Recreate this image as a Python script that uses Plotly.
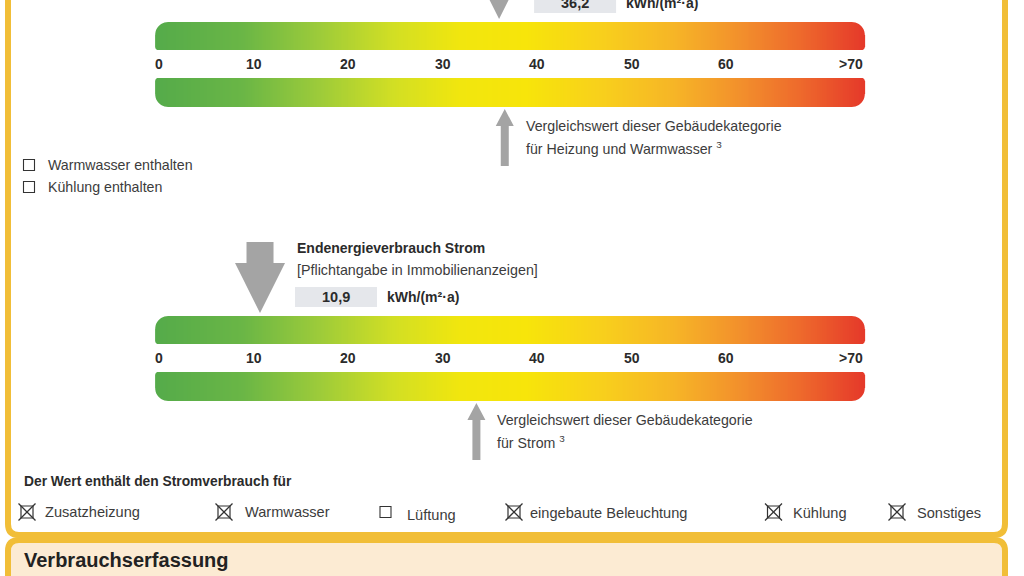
import numpy as np
import plotly.graph_objects as go

# ---------------- data ----------------
tick_values = [0, 10, 20, 30, 40, 50, 60]
tick_labels = ["0", "10", "20", "30", "40", "50", "60"]
last_tick_label = ">70"
scale_start = -0.2
scale_end = 74.9

heat_value = 36.2          # Endenergieverbrauch (upper scale, cut off)
heat_value_label = "36,2"
heat_compare = 36.8        # Vergleichswert Heizung und Warmwasser

power_value = 10.9         # Endenergieverbrauch Strom
power_value_label = "10,9"
power_compare = 33.8       # Vergleichswert Strom

unit_label = "kWh/(m²·a)"

top_check_labels = ["Warmwasser enthalten", "Kühlung enthalten"]
top_check_states = [False, False]

power_check_labels = ["Zusatzheizung", "Warmwasser", "Lüftung",
                      "eingebaute Beleuchtung", "Kühlung", "Sonstiges"]
power_check_states = [True, True, False, True, True, True]

# ---------------- layout helpers ----------------
W, H = 1024, 576
PX0 = 157.0      # pixel of value 0
PXPV = 9.45      # pixels per kWh

def pv(dpx):
    return dpx / PXPV

def px_of(v):
    return PX0 + v * PXPV

def paper(px):
    return px / W

FONT = "Liberation Sans, Arial, Helvetica, sans-serif"
YELLOW = "#F1BE38"
GREY = "#a4a4a4"
TXT = "#2b2b2b"
TXT2 = "#3c3c3c"
FL, FR = 8, 1005   # frame left / right border centre

colorscale_stops = [(-0.2, "#55ab4a"), (9, "#6ab646"), (17, "#9ccb3a"), (25, "#d2df24"),
                    (32, "#f1e60e"), (39, "#f7e50a"), (47, "#f8d01c"), (55, "#f6b427"),
                    (62, "#f28e2c"), (68, "#ee6a2c"), (74.9, "#e5392a")]
cs = [[(v - scale_start) / (scale_end - scale_start), c] for v, c in colorscale_stops]

fig = go.Figure()
shapes = []
annotations = []

# --------- frame ----------
shapes.append(dict(type="path", xref="paper", yref="y", layer="below",
                   path=f"M {paper(FL)},620 L {paper(FL)},551 Q {paper(FL)},540 {paper(FL+11)},540 "
                        f"L {paper(FR-11)},540 Q {paper(FR)},540 {paper(FR)},551 L {paper(FR)},620 Z",
                   fillcolor="#FCEBD3", line=dict(color=YELLOW, width=6)))
shapes.append(dict(type="path", xref="paper", yref="y", layer="below",
                   path=f"M {paper(FL)},-20 L {paper(FL)},524 Q {paper(FL)},535 {paper(FL+11)},535 "
                        f"L {paper(FR-11)},535 Q {paper(FR)},535 {paper(FR)},524 L {paper(FR)},-20",
                   fillcolor="rgba(0,0,0,0)", line=dict(color=YELLOW, width=6)))


def corner_mask(x0, y0, sx, sy, r):
    cx, cy = x0 + sx * r, y0 + sy * r
    pts = [(x0 - sx * 2, y0 - sy * 2), (cx, y0 - sy * 2)]
    for t in np.linspace(0, np.pi / 2, 12):
        pts.append((cx - sx * r * np.sin(t), cy - sy * r * np.cos(t)))
    pts.append((x0 - sx * 2, cy))
    d = "M " + " L ".join(f"{paper(a):.5f},{b:.2f}" for a, b in pts) + " Z"
    return dict(type="path", xref="paper", yref="y", layer="above", path=d,
                fillcolor="white", line=dict(width=0))


def scale(y_top, value, value_label, compare, compare_lines, title=None):
    y_edges = [y_top, y_top + 28, y_top + 56, y_top + 85]
    xe = np.linspace(scale_start, scale_end, 401)
    xc = (xe[:-1] + xe[1:]) / 2
    z = [list(xc), [np.nan] * len(xc), list(xc)]
    fig.add_trace(go.Heatmap(x=xe, y=y_edges, z=z, colorscale=cs, zmin=scale_start, zmax=scale_end,
                             showscale=False, hoverinfo="skip"))
    xl, xr = px_of(scale_start), px_of(scale_end)
    r = 13
    shapes.append(corner_mask(xl, y_edges[0], 1, 1, r))
    shapes.append(corner_mask(xr, y_edges[0], -1, 1, r))
    shapes.append(corner_mask(xl, y_edges[1], 1, -1, 3))
    shapes.append(corner_mask(xr, y_edges[1], -1, -1, 3))
    shapes.append(corner_mask(xl, y_edges[2], 1, 1, 3))
    shapes.append(corner_mask(xr, y_edges[2], -1, 1, 3))
    shapes.append(corner_mask(xl, y_edges[3], 1, -1, r))
    shapes.append(corner_mask(xr, y_edges[3], -1, -1, r))
    ymid = y_top + 42
    for tv, tl in zip(tick_values, tick_labels):
        annotations.append(dict(x=tv + pv(2), y=ymid, xref="x", yref="y", text=tl, showarrow=False,
                                xanchor="center", yanchor="middle",
                                font=dict(family=FONT, size=14, color=TXT, weight="bold")))
    annotations.append(dict(x=scale_end, y=ymid, xref="x", yref="y", text=last_tick_label,
                            showarrow=False, xanchor="right", yanchor="middle",
                            font=dict(family=FONT, size=14, color=TXT, weight="bold")))
    # value arrow (down)
    tip = y_top - 3
    hx = [0, -25, -13.5, -13.5, 13.5, 13.5, 25, 0]
    hy = [tip, tip - 50, tip - 50, tip - 71, tip - 71, tip - 50, tip - 50, tip]
    fig.add_trace(go.Scatter(x=[value + pv(d) for d in hx], y=hy, fill="toself", mode="lines",
                             line=dict(width=0), fillcolor=GREY, hoverinfo="skip", showlegend=False))
    # value box
    b0 = value + pv(35)
    b1 = value + pv(117)
    shapes.append(dict(type="rect", xref="x", yref="y", x0=b0, x1=b1, y0=y_top - 29, y1=y_top - 9,
                       fillcolor="#e5e7eb", line=dict(width=0), layer="below"))
    annotations.append(dict(x=(b0 + b1) / 2, y=y_top - 19, xref="x", yref="y", text=value_label,
                            showarrow=False, xanchor="center", yanchor="middle",
                            font=dict(family=FONT, size=14.5, color=TXT, weight="bold")))
    annotations.append(dict(x=b1 + pv(8), y=y_top - 19, xref="x", yref="y", text=unit_label,
                            showarrow=False, xanchor="left", yanchor="middle",
                            font=dict(family=FONT, size=14, color=TXT, weight="bold")))
    if title:
        annotations.append(dict(x=b0, y=y_top - 68, xref="x", yref="y", text=title[0],
                                showarrow=False, xanchor="left", yanchor="middle",
                                font=dict(family=FONT, size=14, color=TXT, weight="bold")))
        annotations.append(dict(x=b0, y=y_top - 46, xref="x", yref="y", text=title[1],
                                showarrow=False, xanchor="left", yanchor="middle",
                                font=dict(family=FONT, size=14.3, color=TXT2)))
    # comparison arrow (up)
    ub = y_edges[3] + 2
    ux = [0, -9, -4, -4, 4, 4, 9, 0]
    uy = [ub, ub + 17, ub + 17, ub + 57, ub + 57, ub + 17, ub + 17, ub]
    fig.add_trace(go.Scatter(x=[compare + pv(d) for d in ux], y=uy, fill="toself", mode="lines",
                             line=dict(width=0), fillcolor=GREY, hoverinfo="skip", showlegend=False))
    for i, line in enumerate(compare_lines):
        annotations.append(dict(x=compare + pv(19), y=ub + 17 + 22 * i, xref="x", yref="y", text=line,
                                showarrow=False, xanchor="left", yanchor="middle",
                                font=dict(family=FONT, size=14.2, color=TXT2)))


scale(22, heat_value, heat_value_label, heat_compare,
      ["Vergleichswert dieser Gebäudekategorie", "für Heizung und Warmwasser <sup>3</sup>"])
scale(316, power_value, power_value_label, power_compare,
      ["Vergleichswert dieser Gebäudekategorie", "für Strom <sup>3</sup>"],
      title=["Endenergieverbrauch Strom", "[Pflichtangabe in Immobilienanzeigen]"])


def checkbox(cx, cy, size, checked, text_x, text_y, label, fsize):
    h = size / 2
    if checked:
        shapes.append(dict(type="rect", xref="paper", yref="y", x0=paper(cx - h + 2.5), x1=paper(cx + h - 2.5),
                           y0=cy - h + 2.5, y1=cy + h - 2.5, line=dict(color="#333", width=1.2)))
        shapes.append(dict(type="line", xref="paper", yref="y", x0=paper(cx - h), x1=paper(cx + h),
                           y0=cy - h, y1=cy + h, line=dict(color="#333", width=1.3)))
        shapes.append(dict(type="line", xref="paper", yref="y", x0=paper(cx + h), x1=paper(cx - h),
                           y0=cy - h, y1=cy + h, line=dict(color="#333", width=1.3)))
    else:
        shapes.append(dict(type="rect", xref="paper", yref="y", x0=paper(cx - h), x1=paper(cx + h),
                           y0=cy - h, y1=cy + h, line=dict(color="#333", width=1.1)))
    annotations.append(dict(x=paper(text_x), y=text_y, xref="paper", yref="y", text=label,
                            showarrow=False, xanchor="left", yanchor="middle",
                            font=dict(family=FONT, size=fsize, color=TXT2)))


top_check_pos = [(29, 165), (29, 187)]
for (cx, cy), lab, st in zip(top_check_pos, top_check_labels, top_check_states):
    checkbox(cx, cy, 11, st, 46, cy, lab, 14.2)

annotations.append(dict(x=paper(22), y=481, xref="paper", yref="y", text="Der Wert enthält den Stromverbrauch für",
                        showarrow=False, xanchor="left", yanchor="middle",
                        font=dict(family=FONT, size=13.8, color=TXT, weight="bold")))

power_box_x = [27, 224, 385.5, 514, 773.5, 897]
power_text_x = [43, 243, 405, 528, 791, 915]
power_text_y = [512, 512, 515, 513, 513, 513]
for bx, tx, ty, lab, st in zip(power_box_x, power_text_x, power_text_y, power_check_labels, power_check_states):
    checkbox(bx, 512, 17 if st else 11, st, tx, ty, lab, 14.6)

annotations.append(dict(x=paper(22), y=560, xref="paper", yref="y", text="Verbrauchserfassung",
                        showarrow=False, xanchor="left", yanchor="middle",
                        font=dict(family=FONT, size=20, color="#222", weight="bold")))

fig.update_layout(
    width=W, height=H, margin=dict(l=0, r=0, t=0, b=0),
    paper_bgcolor="white", plot_bgcolor="white",
    xaxis=dict(range=[-PX0 / PXPV, (W - PX0) / PXPV], visible=False, fixedrange=True),
    yaxis=dict(range=[H, 0], visible=False, fixedrange=True),
    shapes=shapes, annotations=annotations, showlegend=False,
)

fig.write_html("out.html", config={"displayModeBar": False},
               post_script="document.body.style.margin='0';document.body.style.overflow='hidden';")
